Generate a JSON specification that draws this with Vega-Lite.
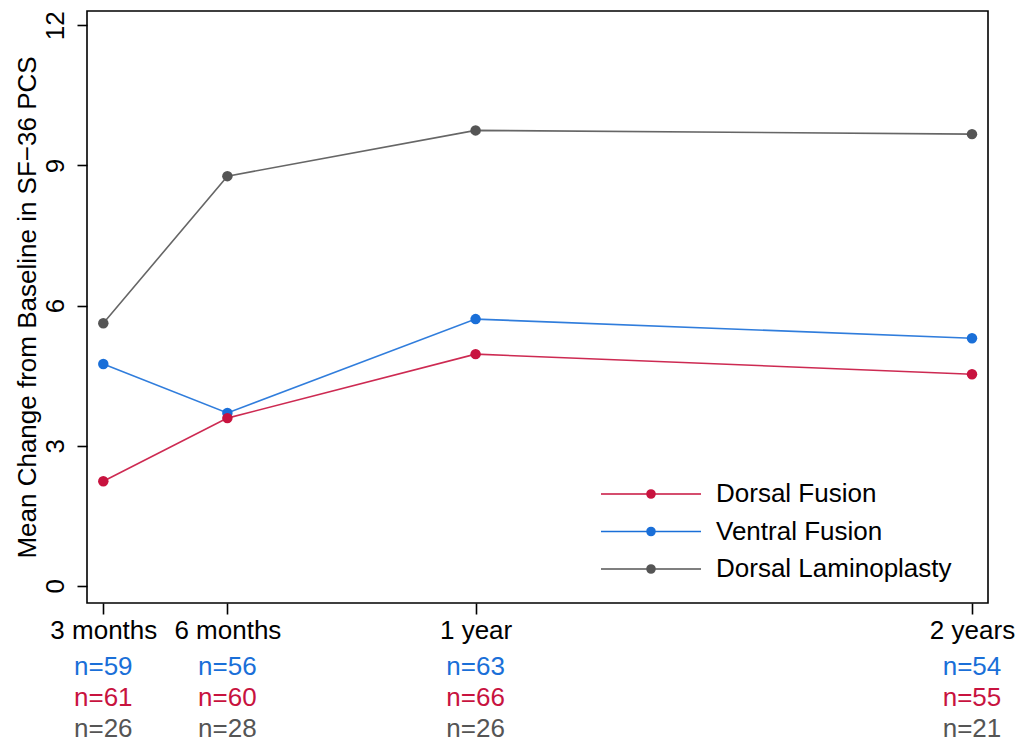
{
  "$schema": "https://vega.github.io/schema/vega-lite/v6.json",
  "padding": {"left": 13, "top": 10, "right": 2, "bottom": 2},
  "background": "white",
  "config": {
    "font": "Liberation Sans",
    "view": {"stroke": null}
  },
  "datasets": {
    "means": [
      {"months": 3, "group": "Dorsal Laminoplasty", "change": 5.62},
      {"months": 6, "group": "Dorsal Laminoplasty", "change": 8.77},
      {"months": 12, "group": "Dorsal Laminoplasty", "change": 9.75},
      {"months": 24, "group": "Dorsal Laminoplasty", "change": 9.67},
      {"months": 3, "group": "Ventral Fusion", "change": 4.75},
      {"months": 6, "group": "Ventral Fusion", "change": 3.70},
      {"months": 12, "group": "Ventral Fusion", "change": 5.71},
      {"months": 24, "group": "Ventral Fusion", "change": 5.30},
      {"months": 3, "group": "Dorsal Fusion", "change": 2.24},
      {"months": 6, "group": "Dorsal Fusion", "change": 3.59},
      {"months": 12, "group": "Dorsal Fusion", "change": 4.96},
      {"months": 24, "group": "Dorsal Fusion", "change": 4.53}
    ],
    "counts": [
      {"months": 3, "group": "Ventral Fusion", "n": 59},
      {"months": 3, "group": "Dorsal Fusion", "n": 61},
      {"months": 3, "group": "Dorsal Laminoplasty", "n": 26},
      {"months": 6, "group": "Ventral Fusion", "n": 56},
      {"months": 6, "group": "Dorsal Fusion", "n": 60},
      {"months": 6, "group": "Dorsal Laminoplasty", "n": 28},
      {"months": 12, "group": "Ventral Fusion", "n": 63},
      {"months": 12, "group": "Dorsal Fusion", "n": 66},
      {"months": 12, "group": "Dorsal Laminoplasty", "n": 26},
      {"months": 24, "group": "Ventral Fusion", "n": 54},
      {"months": 24, "group": "Dorsal Fusion", "n": 55},
      {"months": 24, "group": "Dorsal Laminoplasty", "n": 21}
    ]
  },
  "spacing": 7,
  "resolve": {"scale": {"x": "independent", "y": "independent", "color": "independent"}},
  "vconcat": [
    {
      "width": 901,
      "height": 592,
      "view": {"stroke": "black", "strokeWidth": 1.6},
      "data": {"name": "means"},
      "encoding": {
        "x": {
          "field": "months", "type": "quantitative",
          "scale": {"domain": [2.606, 24.387], "nice": false, "zero": false},
          "axis": {
            "values": [3, 6, 12, 24],
            "labelExpr": "datum.value == 3 ? '3 months' : datum.value == 6 ? '6 months' : datum.value == 12 ? '1 year' : '2 years'",
            "title": null, "grid": false, "domain": false,
            "tickSize": 11, "tickColor": "black", "tickWidth": 1.6,
            "labelFontSize": 26, "labelColor": "black", "labelPadding": 3,
            "labelBaseline": "top", "labelFlush": false, "labelOverlap": false
          }
        },
        "y": {
          "field": "change", "type": "quantitative",
          "scale": {"domain": [-0.368, 12.306], "nice": false, "zero": false},
          "axis": {
            "values": [0, 3, 6, 9, 12],
            "title": "Mean Change from Baseline in SF−36 PCS",
            "titleFontSize": 26, "titleFontWeight": "normal", "titleColor": "black", "titlePadding": 2,
            "grid": false, "domain": false,
            "tickSize": 10, "tickColor": "black", "tickWidth": 1.6,
            "labelFontSize": 26, "labelAngle": -90, "labelAlign": "center", "labelBaseline": "alphabetic",
            "labelPadding": 14, "labelColor": "black"
          }
        },
        "color": {
          "field": "group", "type": "nominal",
          "scale": {
            "domain": ["Dorsal Fusion", "Ventral Fusion", "Dorsal Laminoplasty"],
            "range": ["#c8133f", "#1a6fd8", "#555555"]
          },
          "legend": {
            "title": null, "orient": "none", "legendX": 513, "legendY": 470, "padding": 0,
            "labelFontSize": 26, "labelColor": "black", "labelLimit": 400, "labelOffset": 14,
            "symbolType": "M-1,0L1,0M-0.08,0A0.08,0.08,0,1,1,0.08,0A0.08,0.08,0,1,1,-0.08,0M-0.05,0A0.05,0.05,0,1,1,0.05,0A0.05,0.05,0,1,1,-0.05,0M-0.02,0A0.02,0.02,0,1,1,0.02,0A0.02,0.02,0,1,1,-0.02,0",
            "symbolSize": 10000, "symbolStrokeWidth": 1.6, "symbolOpacity": 1,
            "clipHeight": 26, "rowPadding": 11.5
          }
        }
      },
      "layer": [
        {"mark": {"type": "line", "strokeWidth": 1.6, "opacity": 0.9}},
        {"mark": {"type": "point", "filled": true, "size": 110, "opacity": 1}}
      ]
    },
    {
      "width": 901,
      "height": 93,
      "data": {"name": "counts"},
      "transform": [{"calculate": "'n=' + datum.n", "as": "label"}],
      "mark": {"type": "text", "fontSize": 26, "baseline": "middle", "align": "center"},
      "encoding": {
        "x": {
          "field": "months", "type": "quantitative",
          "scale": {"domain": [2.606, 24.387], "nice": false, "zero": false},
          "axis": null
        },
        "y": {
          "field": "group", "type": "nominal",
          "scale": {"domain": ["Ventral Fusion", "Dorsal Fusion", "Dorsal Laminoplasty"], "paddingInner": 0, "paddingOuter": 0},
          "axis": null
        },
        "color": {
          "field": "group", "type": "nominal",
          "scale": {
            "domain": ["Dorsal Fusion", "Ventral Fusion", "Dorsal Laminoplasty"],
            "range": ["#c8133f", "#1a6fd8", "#555555"]
          },
          "legend": null
        },
        "text": {"field": "label"}
      }
    }
  ]
}
